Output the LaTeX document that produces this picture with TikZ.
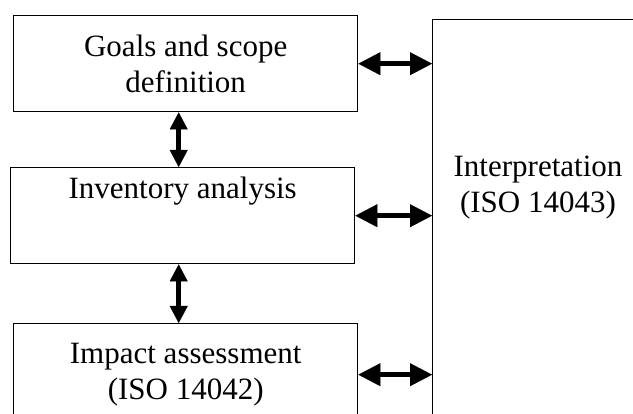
\documentclass[tikz,border=0pt]{standalone}
\usepackage{fontspec}
\setmainfont{Liberation Serif}
\usetikzlibrary{arrows.meta}
\usetikzlibrary{positioning}

\tikzset{
  stage/.style={draw, line width=1.4pt, inner sep=0pt, minimum width=344pt,
    minimum height=96pt, align=center, font=\fontsize{31}{36}\selectfont},
  hlink/.style={{Triangle[length=22pt,width=23pt,line width=0.1pt]}-{Triangle[length=22pt,width=23pt,line width=0.1pt]}, line width=5pt},
  vlink/.style={{Triangle[length=17pt,width=18pt,line width=0.1pt]}-{Triangle[length=17pt,width=18pt,line width=0.1pt]}, line width=5pt}
}

\begin{document}
\begin{tikzpicture}[x=1pt,y=-1pt]
\useasboundingbox (0,0) rectangle (633,414);
\clip (0,0) rectangle (633,414);

% the three phases
\node[stage, anchor=north west] (goals) at (13,15) {Goals and scope\\definition};
\node[stage, anchor=north west, text height=31pt, text depth=65pt] (inventory) at (10,167) {Inventory analysis};
\node[stage, anchor=north west, minimum height=102pt] (impact) at (13,323) {Impact assessment\\(ISO 14042)};

% interpretation, running off the page
\node[draw, line width=1.4pt, anchor=north west, minimum width=212pt, minimum height=420pt] (interp) at (432,19) {};
\node[align=center, font=\fontsize{31}{36}\selectfont] (interp text) at (538,188) {Interpretation\\(ISO 14043)};

% links
\path ([xshift=-7pt]goals.south) coordinate (spine);
\draw[vlink] (spine) -- (spine |- inventory.north);
\draw[vlink] (spine |- inventory.south) -- (spine |- impact.north);
\draw[hlink] (goals.east) -- (goals.east -| interp.west);
\draw[hlink] (inventory.east) -- (inventory.east -| interp.west);
\draw[hlink] (impact.east) -- (impact.east -| interp.west);
\end{tikzpicture}
\end{document}
